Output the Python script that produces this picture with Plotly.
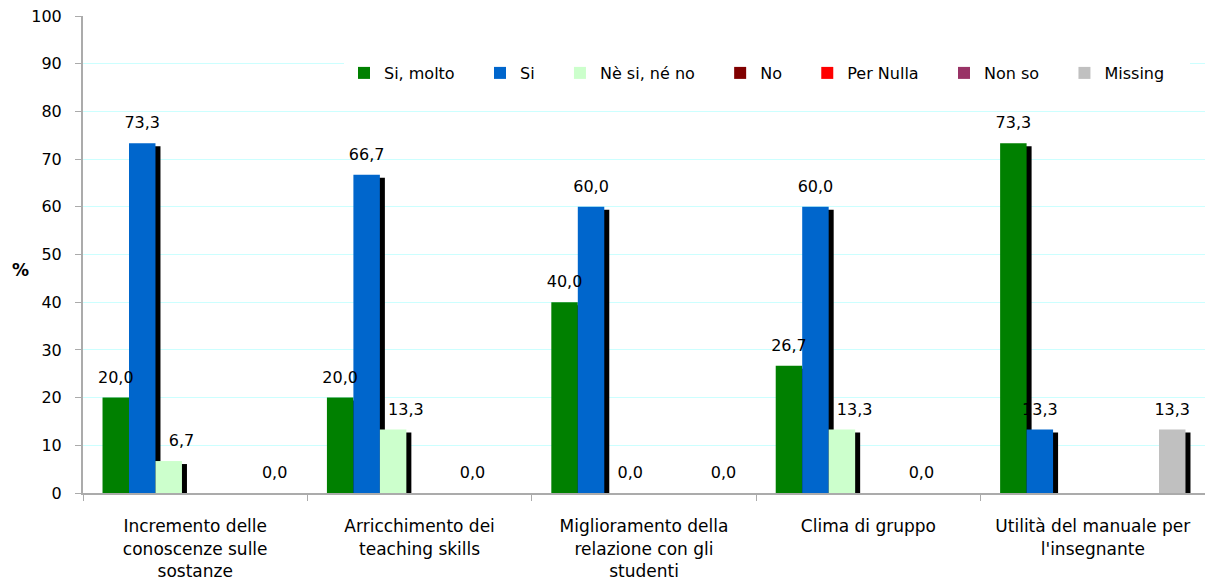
import plotly.graph_objects as go

categories = [
    "Incremento delle<br>conoscenze sulle<br>sostanze",
    "Arricchimento dei<br>teaching skills",
    "Miglioramento della<br>relazione con gli<br>studenti",
    "Clima di gruppo",
    "Utilità del manuale per<br>l'insegnante",
]
series_names = ["Si, molto", "Si", "Nè si, né no", "No", "Per Nulla", "Non so", "Missing"]
si_molto = [20.0, 20.0, 40.0, 26.7, 73.3]
si = [73.3, 66.7, 60.0, 60.0, 13.3]
ne_si_ne_no = [6.7, 13.3, 0.0, 13.3, None]
no = [None, None, None, None, None]
per_nulla = [None, None, None, None, None]
non_so = [None, 0.0, None, 0.0, None]
missing = [0.0, None, 0.0, None, 13.3]
series_values = [si_molto, si, ne_si_ne_no, no, per_nulla, non_so, missing]
colors = ["#008000", "#0066CC", "#CCFFCC", "#800000", "#FF0000", "#993366", "#C0C0C0"]
y_ticks = list(range(0, 101, 10))

FONT = "DejaVu Sans"
W, H = 1205, 588
ML, MR, MT, MB = 83, 0, 16, 95
pw = W - ML - MR
ph = H - MT - MB
ncat = len(categories)
px_per_cat = pw / ncat
px_per_unit = ph / 100.0

# shadow offsets (pixels)
sdx, sdy = 5, 3
# label lift (pixels)
lift = 8

fig = go.Figure()

# shadows (base subplot, shifted right/down)
for name, vals in zip(series_names, series_values):
    fig.add_trace(go.Bar(
        x=categories, y=vals, name=name, marker=dict(color="black", line=dict(width=0)),
        showlegend=False, hoverinfo="skip", xaxis="x", yaxis="y",
    ))

# main bars
for name, vals, c in zip(series_names, series_values, colors):
    fig.add_trace(go.Bar(
        x=categories, y=vals, name=name + "\u00a0" * 4, marker=dict(color=c, line=dict(width=0)),
        xaxis="x2", yaxis="y2",
    ))

# labels (transparent bars, lifted)
for i, (name, vals) in enumerate(zip(series_names, series_values)):
    tmpl = "%{y:.1f}"
    if i == 2:
        tmpl = "\u00a0" * 5 + "%{y:.1f}"
    fig.add_trace(go.Bar(
        x=categories, y=vals, name=name, marker=dict(color="rgba(0,0,0,0)", line=dict(width=0)),
        texttemplate=tmpl, textposition="outside", constraintext="none", cliponaxis=False,
        textfont=dict(family=FONT, size=16, color="black"),
        showlegend=False, hoverinfo="skip", xaxis="x3", yaxis="y3",
    ))

dx = sdx / px_per_cat
dy = sdy / px_per_unit
ly = lift / px_per_unit

fig.update_layout(
    width=W, height=H,
    margin=dict(l=ML, r=MR, t=MT, b=MB, autoexpand=False),
    paper_bgcolor="white", plot_bgcolor="white",
    barmode="group", bargap=0.174, bargroupgap=0,
    separators=",.",
    font=dict(family=FONT, size=15, color="black"),
    xaxis=dict(type="category", categoryarray=categories, range=[-0.5 - dx, ncat - 0.5 - dx],
               visible=False, automargin=False),
    yaxis=dict(range=[dy, 100 + dy], visible=False, automargin=False),
    xaxis2=dict(type="category", categoryarray=categories, range=[-0.5, ncat - 0.5],
                overlaying="x", anchor="y2", showline=True, linecolor="#ABABAB", linewidth=2,
                ticks="outside", tickson="boundaries", ticklen=6, tickcolor="#ABABAB", tickwidth=1,
                showgrid=False, tickfont=dict(family=FONT, size=17, color="black"),
                ticklabelstandoff=17, automargin=False),
    yaxis2=dict(range=[0, 100], tickvals=y_ticks, overlaying="y", anchor="x2",
                showline=True, linecolor="#ABABAB", linewidth=2,
                ticks="outside", ticklen=6, tickcolor="#ABABAB", tickwidth=1,
                showgrid=True, gridcolor="#CCFFFF", gridwidth=1, zeroline=False,
                tickfont=dict(family=FONT, size=16, color="black"), ticklabelstandoff=10,
                automargin=False),
    xaxis3=dict(type="category", categoryarray=categories, range=[-0.5, ncat - 0.5],
                overlaying="x", anchor="y3", visible=False, automargin=False),
    yaxis3=dict(range=[-ly, 100 - ly], overlaying="y", anchor="x3", visible=False,
                automargin=False),
    legend=dict(orientation="h", x=(344 - ML) / pw, xanchor="left", y=(H - MB - 73) / ph,
                yanchor="middle", bgcolor="white", font=dict(family=FONT, size=16, color="black"),
                traceorder="normal"),
    annotations=[dict(text="<b>%</b>", x=(20 - ML) / pw, y=(H - MB - 270) / ph,
                      xref="paper", yref="paper", xanchor="center", yanchor="middle",
                      showarrow=False, font=dict(family=FONT, size=17, color="black"))],
)

fig.write_html(
    "out.html",
    config={"displayModeBar": False},
    post_script="document.body.style.margin='0px';document.body.style.overflow='hidden';",
)
